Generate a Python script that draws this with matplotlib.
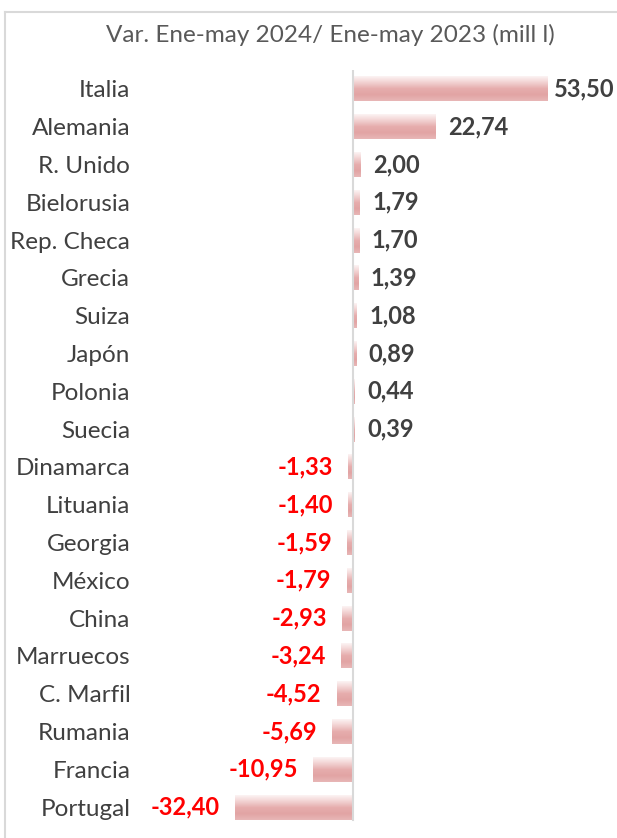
import numpy as np
import matplotlib.pyplot as plt
from matplotlib.colors import LinearSegmentedColormap
from matplotlib.lines import Line2D

paises = ['Italia', 'Alemania', 'R. Unido', 'Bielorusia', 'Rep. Checa', 'Grecia',
          'Suiza', 'Japón', 'Polonia', 'Suecia', 'Dinamarca', 'Lituania', 'Georgia',
          'México', 'China', 'Marruecos', 'C. Marfil', 'Rumania', 'Francia', 'Portugal']
valores = [53.50, 22.74, 2.00, 1.79, 1.70, 1.39, 1.08, 0.89, 0.44, 0.39,
           -1.33, -1.40, -1.59, -1.79, -2.93, -3.24, -4.52, -5.69, -10.95, -32.40]
titulo = 'Var. Ene-may 2024/ Ene-may 2023 (mill l)'

plt.rcParams['font.family'] = ['Lato', 'DejaVu Sans']

fig = plt.figure(figsize=(6.17, 8.38), dpi=100)
ax = fig.add_axes([140 / 617, 12 / 838, 477 / 617, 756 / 838])

y = np.arange(len(paises))
bars = ax.barh(y, valores, height=0.66, color='none', edgecolor='none')

# gradiente vertical de la barra (claro arriba, rosado abajo)
cmap = LinearSegmentedColormap.from_list('g', ['#fcf3f3', '#f2d2d2', '#e6adad', '#e2a4a4', '#e8b6b6'])
grad = np.linspace(0, 1, 64).reshape(-1, 1)
for b in bars:
    x0, w = b.get_x(), b.get_width()
    y0, h = b.get_y(), b.get_height()
    im = ax.imshow(grad, cmap=cmap, extent=(x0, x0 + w, y0 + h, y0),
                   origin='upper', aspect='auto', zorder=2)
    im.set_clip_path(b)

vmax = max(valores)
for i, v in enumerate(valores):
    txt = f'{v:.2f}'.replace('.', ',')
    if v >= 0:
        off = 5 if v == vmax else 9   # la etiqueta mayor se acerca para caber
        ax.annotate(txt, (v, i), xytext=(off, 0), textcoords='offset points',
                    ha='left', va='center', fontsize=17, fontweight='bold',
                    color='#404040', annotation_clip=False)
    else:
        ax.annotate(txt, (v, i), xytext=(-11, 0), textcoords='offset points',
                    ha='right', va='center', fontsize=17, fontweight='bold', color='#ff0000')

ax.axvline(0, ymin=0.008, ymax=1.0, color='#d9d9d9', lw=1.5, zorder=3)

ax.set_xlim(-58.7, 72.7)
ax.set_ylim(len(paises) - 0.5, -0.5)
ax.set_yticks(y)
ax.set_yticklabels(paises, fontsize=17.5, color='#404040')
ax.tick_params(axis='y', length=0, pad=7)
ax.set_xticks([])
for s in ax.spines.values():
    s.set_visible(False)

fig.text(330 / 617, 1 - 35 / 838, titulo, ha='center', va='center', fontsize=17.5, color='#595959')

# borde del área del gráfico
fig.add_artist(Line2D([5 / 617, 1], [1 - 12 / 838, 1 - 12 / 838], color='#d9d9d9', lw=1.5))
fig.add_artist(Line2D([5 / 617, 5 / 617], [0, 1 - 12 / 838], color='#d9d9d9', lw=1.5))

fig.savefig('out.png', dpi=100)
